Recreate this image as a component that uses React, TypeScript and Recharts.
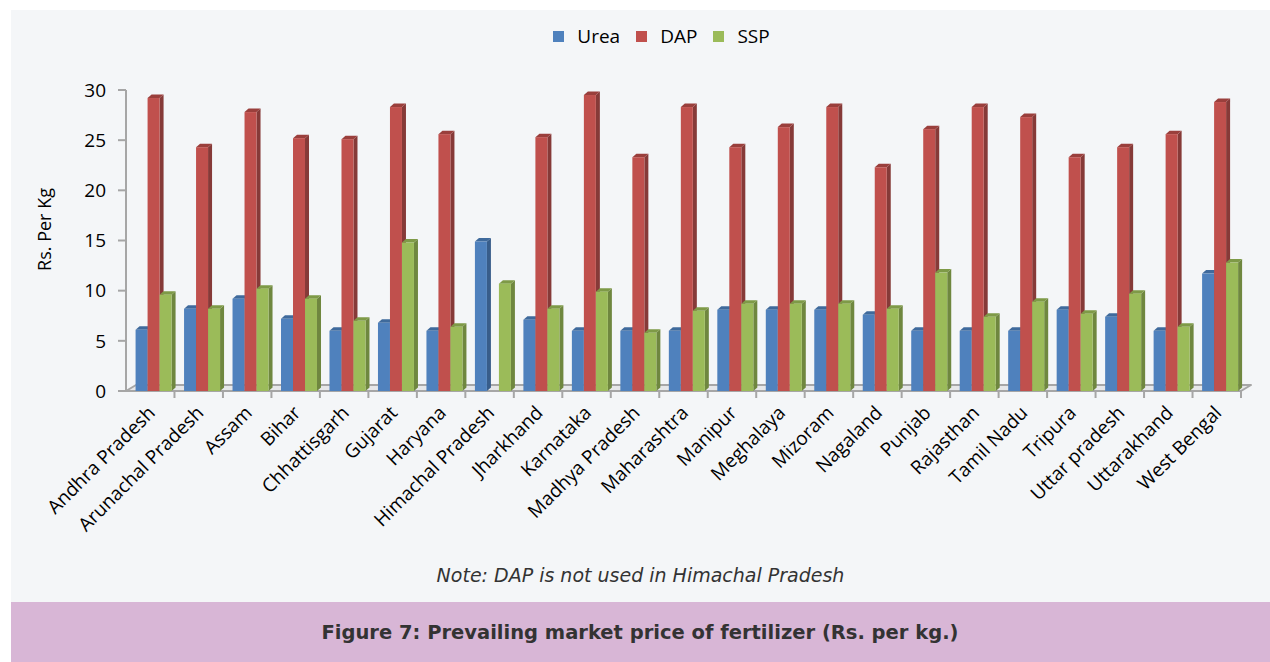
import React from "react";
import {
    BarChart,
    Bar,
    XAxis,
    YAxis,
    Legend,
    Label,
    Customized,
    usePlotArea
} from "recharts";

const states = [
    "Andhra Pradesh",
    "Arunachal Pradesh",
    "Assam",
    "Bihar",
    "Chhattisgarh",
    "Gujarat",
    "Haryana",
    "Himachal Pradesh",
    "Jharkhand",
    "Karnataka",
    "Madhya Pradesh",
    "Maharashtra",
    "Manipur",
    "Meghalaya",
    "Mizoram",
    "Nagaland",
    "Punjab",
    "Rajasthan",
    "Tamil Nadu",
    "Tripura",
    "Uttar pradesh",
    "Uttarakhand",
    "West Bengal"
];

const urea = [6.1, 8.2, 9.2, 7.2, 6, 6.8, 6, 14.9, 7.1, 6, 6, 6, 8.1, 8.1, 8.1, 7.6, 6, 6, 6, 8.1, 7.4, 6, 11.7];
// DAP is not used in Himachal Pradesh
const dap = [29.2, 24.3, 27.8, 25.2, 25.1, 28.3, 25.6, 0, 25.3, 29.5, 23.3, 28.3, 24.3, 26.3, 28.3, 22.3, 26.1, 28.3, 27.3, 23.3, 24.3, 25.6, 28.8];
const ssp = [9.6, 8.2, 10.2, 9.2, 7, 14.8, 6.4, 10.7, 8.2, 9.9, 5.8, 8, 8.7, 8.7, 8.7, 8.2, 11.8, 7.4, 8.9, 7.7, 9.7, 6.4, 12.8];

const yTicks = [0, 5, 10, 15, 20, 25, 30];

const series = [
    { key: "urea", name: "Urea", fill: "#4f81bd", side: "#385d8a", top: "#3f6a9c" },
    { key: "dap", name: "DAP", fill: "#c0504d", side: "#863a38", top: "#9a3f3c" },
    { key: "ssp", name: "SSP", fill: "#9bbb59", side: "#6f873f", top: "#7e9a47" }
];

const data = states.map((state, i) => ({
    state,
    urea: urea[i],
    dap: dap[i],
    ssp: ssp[i]
}));

const FONT = "'Open Sans', 'Noto Sans', sans-serif";
const AXIS_GREY = "#a6a6a6";

// bar with a side face and a top cap, like an Excel 3-D column
function Column3D(props: any) {
    const { x, y, width, height, fill, side, top } = props;
    if (!height || height <= 0.5) return null;
    const depth = 4;
    const rise = 3.5;
    const shift = 4;
    const l = x + shift;
    const r = l + width;
    const b = y + height;
    return (
        <g>
            <polygon
                points={`${r},${y} ${r + depth},${y - rise} ${r + depth},${b - rise} ${r},${b}`}
                fill={side}
            />
            <polygon
                points={`${l},${y} ${l + depth},${y - rise} ${r + depth},${y - rise} ${r},${y}`}
                fill={top}
            />
            <rect x={l} y={y} width={width} height={height} fill={fill} />
        </g>
    );
}

// grey floor under the columns, with tick marks between categories
function Floor() {
    const area = usePlotArea();
    if (!area) return null;
    const { x, y, width, height } = area;
    const b = y + height;
    const band = width / states.length;
    const dx = 10;
    const dy = 6;
    return (
        <g>
            <polygon
                points={`${x},${b} ${x + width},${b} ${x + width + dx},${b - dy} ${x + dx},${b - dy}`}
                fill="#e6e7e9"
                stroke={AXIS_GREY}
                strokeWidth={2}
                strokeLinejoin="round"
            />
            {states.map((_, i) => (
                <line
                    key={i}
                    x1={x + (i + 1) * band}
                    x2={x + (i + 1) * band}
                    y1={b}
                    y2={b + 7}
                    stroke={AXIS_GREY}
                    strokeWidth={2}
                />
            ))}
        </g>
    );
}

function StateTick(props: any) {
    const { x, y, payload } = props;
    return (
        <text
            transform={`translate(${x + 6}, ${y + 15}) rotate(-45)`}
            textAnchor="end"
            fontFamily={FONT}
            fontSize={19}
            fill="#000"
        >
            {payload.value}
        </text>
    );
}

function LegendRow() {
    return (
        <div
            style={{
                display: "flex",
                justifyContent: "center",
                gap: 16,
                fontFamily: FONT,
                fontSize: 19,
                color: "#000",
                paddingLeft: 16
            }}
        >
            {series.map((s) => (
                <span key={s.key} style={{ display: "flex", alignItems: "center" }}>
                    <span
                        style={{
                            width: 11,
                            height: 11,
                            background: s.fill,
                            marginRight: 13,
                            display: "inline-block"
                        }}
                    />
                    {s.name}
                </span>
            ))}
        </div>
    );
}

function App() {

    return (

        <div style={{ position: "relative", width: 1270, height: 662, background: "#fff" }}>

            <style>{`body { margin: 0; }`}</style>

            <div
                style={{
                    position: "absolute",
                    left: 11,
                    top: 10,
                    width: 1259,
                    height: 592,
                    background: "#f4f6f8"
                }}
            />

            <div
                style={{
                    position: "absolute",
                    left: 11,
                    top: 602,
                    width: 1259,
                    height: 60,
                    background: "#d8b6d6"
                }}
            />

            <div style={{ position: "absolute", left: 0, top: 0 }}>

                <BarChart
                    width={1270}
                    height={602}
                    data={data}
                    margin={{ top: 60, right: 29, left: 66, bottom: 1 }}
                    barCategoryGap="11.5%"
                    barGap={0}
                >

                    <Legend
                        verticalAlign="top"
                        height={30}
                        wrapperStyle={{ top: 23 }}
                        content={() => <LegendRow />}
                    />

                    <Customized component={<Floor />} />

                    <XAxis
                        dataKey="state"
                        interval={0}
                        axisLine={false}
                        tickLine={false}
                        height={210}
                        tick={<StateTick />}
                    />

                    <YAxis
                        domain={[0, 30]}
                        ticks={yTicks}
                        width={60}
                        tickSize={8}
                        tickMargin={12}
                        axisLine={{ stroke: AXIS_GREY, strokeWidth: 2 }}
                        tickLine={{ stroke: AXIS_GREY, strokeWidth: 2 }}
                        tick={{ fontFamily: FONT, fontSize: 19, fill: "#000" }}
                    >
                        <Label
                            content={({ viewBox }: any) => (
                                <text
                                    transform={`translate(${viewBox.x - 20}, ${viewBox.y + viewBox.height / 2 - 11}) rotate(-90)`}
                                    textAnchor="middle"
                                    dominantBaseline="middle"
                                    fontFamily={FONT}
                                    fontSize={18}
                                    fill="#000"
                                >
                                    Rs. Per Kg
                                </text>
                            )}
                        />
                    </YAxis>

                    {series.map((s) => (
                        <Bar
                            key={s.key}
                            dataKey={s.key}
                            name={s.name}
                            fill={s.fill}
                            isAnimationActive={false}
                            shape={(p: any) => <Column3D {...p} side={s.side} top={s.top} />}
                        />
                    ))}

                </BarChart>

            </div>

            <div
                style={{
                    position: "absolute",
                    left: 11,
                    width: 1259,
                    top: 564,
                    textAlign: "center",
                    fontFamily: "'DejaVu Sans', sans-serif",
                    fontStyle: "italic",
                    fontSize: 19,
                    color: "#333"
                }}
            >
                Note: DAP is not used in Himachal Pradesh
            </div>

            <div
                style={{
                    position: "absolute",
                    left: 0,
                    width: 1280,
                    top: 621,
                    textAlign: "center",
                    fontFamily: "'DejaVu Sans', sans-serif",
                    fontWeight: "bold",
                    fontSize: 19.5,
                    color: "#333"
                }}
            >
                Figure 7: Prevailing market price of fertilizer (Rs. per kg.)
            </div>

        </div>

    );

}

export default App;
